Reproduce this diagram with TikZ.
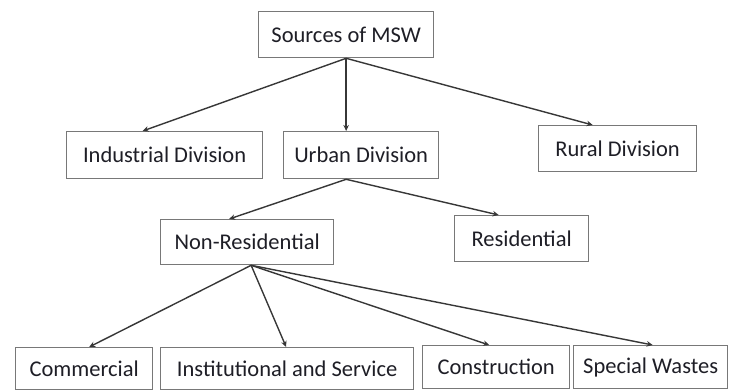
\documentclass[tikz,border=0pt]{standalone}
\usepackage{fontspec}
\setmainfont{Carlito}
\usetikzlibrary{arrows.meta}
\definecolor{boxc}{RGB}{120,120,120}
\definecolor{linec}{RGB}{55,55,55}
\definecolor{txtc}{RGB}{30,30,38}
\begin{document}
\begin{tikzpicture}[x=1pt,y=-1pt,
  box/.style={draw=boxc,line width=1.3pt,inner sep=0pt,anchor=north west,
    text=txtc,font=\fontsize{22.5}{26}\selectfont},
  arr/.style={draw=linec,line width=1.4pt,-{Stealth[length=6pt,width=5.5pt]}}]
\useasboundingbox[fill=white] (0,0) rectangle (733,390);
\node[box,minimum width=175pt,minimum height=46pt] (src) at (258,11) {Sources of MSW};
\node[box,minimum width=196pt,minimum height=47pt] (ind) at (66,131) {Industrial Division};
\node[box,minimum width=155pt,minimum height=47pt] (urb) at (283,131) {Urban Division};
\node[box,minimum width=158pt,minimum height=46pt] (rur) at (538,125) {Rural Division};
\node[box,minimum width=173pt,minimum height=45pt] (nr) at (160,219) {Non-Residential};
\node[box,minimum width=134pt,minimum height=46pt] (res) at (454,215) {Residential};
\node[box,minimum width=137pt,minimum height=42pt] (com) at (15,347) {Commercial};
\node[box,minimum width=253pt,minimum height=42pt] (ins) at (160,347) {Institutional and Service};
\node[box,minimum width=147pt,minimum height=43pt] (con) at (422,345) {Construction};
\node[box,minimum width=154pt,minimum height=43pt] (spw) at (573,345) {Special Wastes};
\draw[arr] (src.south) -- ([xshift=-22pt]ind.north);
\draw[arr] (src.south) -- (src.south |- urb.north);
\draw[arr] (src.south) -- ([xshift=-25pt]rur.north);
\draw[arr] ([xshift=-15pt]urb.south) -- ([xshift=-18pt]nr.north);
\draw[arr] ([xshift=-15pt]urb.south) -- ([xshift=-23pt]res.north);
\draw[arr] ([xshift=4pt]nr.south) -- ([xshift=5pt]com.north);
\draw[arr] ([xshift=4pt]nr.south) -- ([xshift=-1pt]ins.north);
\draw[arr] ([xshift=4pt]nr.south) -- ([xshift=-7pt]con.north);
\draw[arr] ([xshift=4pt]nr.south) -- ([xshift=2pt]spw.north);
\end{tikzpicture}
\end{document}
